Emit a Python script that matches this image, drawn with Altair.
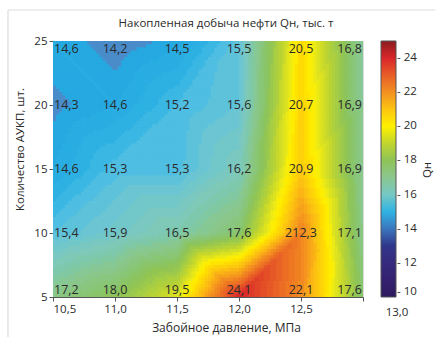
import altair as alt
import pandas as pd
import numpy as np

# ---- data ----
pressure = [10.5, 11.0, 11.5, 12.0, 12.5, 13.0]          # МПа (x)
aukp = [25, 20, 15, 10, 5]                                 # шт. (y), rows top -> bottom
q_row_25 = [14.6, 14.2, 14.5, 15.5, 20.5, 16.8]
q_row_20 = [14.3, 14.6, 15.2, 15.6, 20.7, 16.9]
q_row_15 = [14.6, 15.3, 15.3, 16.2, 20.9, 16.9]
q_row_10 = [15.4, 15.9, 16.5, 17.6, 22.3, 17.1]
q_row_5 = [17.2, 18.0, 19.5, 24.1, 22.1, 17.6]
label_row_25 = ["14,6", "14,2", "14,5", "15,5", "20,5", "16,8"]
label_row_20 = ["14,3", "14,6", "15,2", "15,6", "20,7", "16,9"]
label_row_15 = ["14,6", "15,3", "15,3", "16,2", "20,9", "16,9"]
label_row_10 = ["15,4", "15,9", "16,5", "17,6", "212,3", "17,1"]
label_row_5 = ["17,2", "18,0", "19,5", "24,1", "22,1", "17,6"]

color_stops = [10, 11, 12, 13, 13.5, 13.9, 14.1, 14.3, 14.5, 15, 15.3, 15.7, 16.2, 17, 18, 19, 20, 21, 22, 23, 24, 25]
color_hex = ["#2e1a5e", "#33216f", "#362a7d", "#30368a", "#2e4a9e", "#2f6db5", "#4680c5", "#4a8cca", "#26a9e1",
             "#2fb3e3", "#4fbee2", "#6cc5d2", "#80c9bd", "#8bc78f", "#8ec357", "#c0d52f", "#fff100",
             "#fcc512", "#f39021", "#e85d27", "#d9262a", "#8c1c1f"]
legend_ticks = [10, 12, 14, 16, 18, 20, 22, 24]
x_ticks = [10.5, 11.0, 11.5, 12.0, 12.5, 13.0]
y_ticks = [5, 10, 15, 20, 25]

rows = [q_row_25, q_row_20, q_row_15, q_row_10, q_row_5]
lrows = [label_row_25, label_row_20, label_row_15, label_row_10, label_row_5]

# grid (y ascending) for the contour field, linear on triangles
ys = np.array(aukp[::-1], dtype=float)
xs = np.array(pressure, dtype=float)
Z = np.array(rows[::-1], dtype=float)

def field(x, y):
    i = int(np.clip(np.searchsorted(xs, x) - 1, 0, len(xs) - 2))
    j = int(np.clip(np.searchsorted(ys, y) - 1, 0, len(ys) - 2))
    u = (x - xs[i]) / (xs[i + 1] - xs[i])
    v = (y - ys[j]) / (ys[j + 1] - ys[j])
    bl, br, tl, tr = Z[j, i], Z[j, i + 1], Z[j + 1, i], Z[j + 1, i + 1]
    if (bl + tr) >= (tl + br):
        if u >= v:
            return bl + u * (br - bl) + v * (tr - br)
        return bl + v * (tl - bl) + u * (tr - tl)
    if u + v <= 1:
        return bl + u * (br - bl) + v * (tl - bl)
    return tr + (1 - u) * (tl - tr) + (1 - v) * (br - tr)

nx, ny = 100, 80
ddx = (xs[-1] - xs[0]) / nx
ddy = (ys[-1] - ys[0]) / ny
cells = []
for a in range(nx):
    for b in range(ny):
        cx = xs[0] + (a + 0.5) * ddx
        cy = ys[0] + (b + 0.5) * ddy
        val = field(cx, cy)
        lev = np.floor(val / 0.2 + 1e-6) * 0.2 + 0.1
        cells.append({"x0": xs[0] + a * ddx, "x1": xs[0] + (a + 1) * ddx + ddx * 0.3,
                      "y0": ys[0] + b * ddy, "y1": ys[0] + (b + 1) * ddy + ddy * 0.3,
                      "q": round(float(lev), 2)})
grid = pd.DataFrame(cells)

lab = []
for r, yv in enumerate(aukp):
    for c, xv in enumerate(pressure):
        lab.append({"x": xv, "y": yv, "label": lrows[r][c], "col": c})
labels = pd.DataFrame(lab)

FONT = "Open Sans"
TXT = "#2a2a2a"

xscale = alt.Scale(domain=[10.5, 13.0], nice=False, zero=False)
yscale = alt.Scale(domain=[5, 25], nice=False, zero=False)

field_layer = alt.Chart(grid).mark_rect(clip=True).encode(
    x=alt.X("x0:Q", scale=xscale,
            axis=alt.Axis(values=x_ticks, labelExpr="datum.value >= 12.99 ? '' : replace(format(datum.value, '.1f'), '.', ',')",
                          title="Забойное давление, МПа", titleX=173, titleY=30, titleBaseline="middle",
                          titleFontWeight="normal", titleFontSize=12, titleColor=TXT,
                          labelFontSize=11.5, labelColor=TXT, labelPadding=2,
                          tickSize=4, tickColor="#555", domainColor="#555", grid=False,
                          labelFont=FONT, titleFont=FONT)),
    x2="x1:Q",
    y=alt.Y("y0:Q", scale=yscale,
            axis=alt.Axis(values=y_ticks, format="d", title="Количество АУКП, шт.",
                          titleX=-28, titleY=108, titleFontWeight="normal", titleFontSize=11.5,
                          titleColor=TXT, labelFontSize=11.5, labelColor=TXT, labelPadding=2,
                          tickSize=4, tickColor="#555", domainColor="#555", grid=False,
                          labelFont=FONT, titleFont=FONT)),
    y2="y1:Q",
    color=alt.Color("q:Q", scale=alt.Scale(domain=color_stops, range=color_hex),
                    legend=alt.Legend(orient="none", legendX=328, legendY=0, direction="vertical",
                                      gradientLength=256, gradientThickness=15, title=None,
                                      values=legend_ticks, labelFontSize=11.5, labelColor=TXT,
                                      labelFont=FONT, labelOffset=1,
                                      labelExpr="'- ' + datum.label",
                                      gradientStrokeColor="#555", gradientStrokeWidth=1)),
)

def text_layer(df, align, dx):
    return alt.Chart(df).mark_text(align=align, baseline="middle", dx=dx, fontSize=12.5,
                                   font=FONT, color=TXT).transform_calculate(
        ly="datum.y >= 25 ? 24.38 : (datum.y <= 5 ? 5.55 : datum.y)"
    ).encode(x=alt.X("x:Q", scale=xscale), y=alt.Y("ly:Q", scale=yscale), text="label:N")

left_txt = text_layer(labels[labels.col == 0], "left", 1)
mid_txt = text_layer(labels[(labels.col > 0) & (labels.col < 5)], "center", 0)
right_txt = text_layer(labels[labels.col == 5], "right", -1)

extra = pd.DataFrame({"x": [13.0], "t": ["13,0"]})
x13 = alt.Chart(extra).mark_text(align="center", baseline="middle", dx=34, dy=16, fontSize=11.5,
                                 font=FONT, color=TXT).encode(
    x=alt.X("x:Q", scale=xscale), y=alt.value(256), text="t:N")

qn = alt.Chart(pd.DataFrame({"t": ["Qн"]})).mark_text(angle=270, fontSize=11.5, font=FONT,
                                                     color=TXT).encode(
    x=alt.value(375), y=alt.value(129), text="t:N")

title_txt = alt.Chart(pd.DataFrame({"t": ["Накопленная добыча нефти Qн, тыс. т"]})).mark_text(
    fontSize=11.5, font=FONT, color=TXT, baseline="middle").encode(
    x=alt.value(173), y=alt.value(-17), text="t:N")

frame_top = alt.Chart(pd.DataFrame({"a": [0]})).mark_rule(color="#dddddd", strokeWidth=1.2).encode(
    x=alt.value(-45), x2=alt.value(382), y=alt.value(-31))
frame_left = alt.Chart(pd.DataFrame({"a": [0]})).mark_rule(color="#dddddd", strokeWidth=1.2).encode(
    x=alt.value(-45), y=alt.value(-31), y2=alt.value(300))

chart = alt.layer(field_layer, left_txt, mid_txt, right_txt, x13, qn, title_txt,
                  frame_top, frame_left).properties(
    width=310, height=256,
    autosize=alt.AutoSizeParams(type="none"),
    padding={"left": 53, "top": 41, "right": 75, "bottom": 40},
).configure_view(stroke="#888", strokeWidth=1).configure(background="white")

chart.save("out.html", embed_options={"renderer": "svg", "actions": False})
